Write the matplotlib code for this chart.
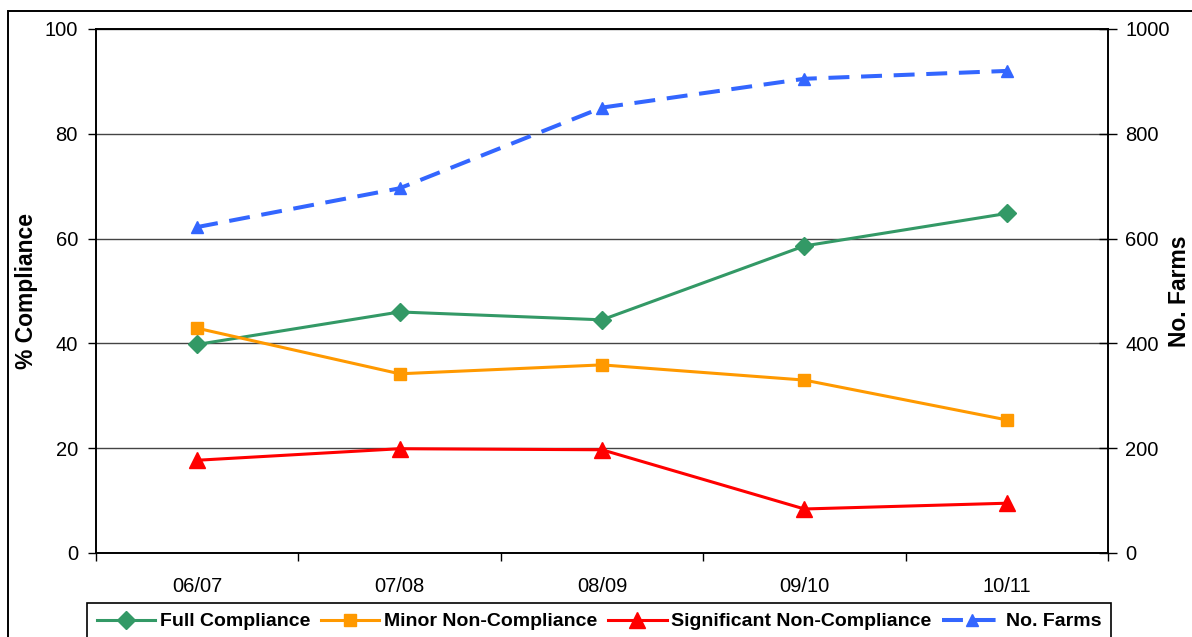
import matplotlib
matplotlib.use('Agg')
import matplotlib.pyplot as plt
from matplotlib.patches import Rectangle

plt.rcParams['font.family'] = ['Liberation Sans', 'DejaVu Sans']

# Compliance figures per season (%), and number of farms inspected
seasons = ['06/07', '07/08', '08/09', '09/10', '10/11']
full_compliance = [39.8, 46.0, 44.5, 58.6, 64.8]
minor_non_compliance = [42.9, 34.2, 35.9, 33.0, 25.4]
significant_non_compliance = [17.7, 19.9, 19.7, 8.4, 9.5]
no_farms = [622, 696, 850, 905, 920]

fig = plt.figure(figsize=(11.92, 6.37), dpi=100)
ax = fig.add_axes([96 / 1192, 1 - 553 / 637, 1012 / 1192, 524 / 637])
ax2 = ax.twinx()

x = list(range(len(seasons)))

# Left axis: compliance percentages
ax.plot(x, full_compliance, color='#339966', lw=2.2, marker='D', ms=9,
        mec='#339966', label='Full Compliance', zorder=3)
ax.plot(x, minor_non_compliance, color='#FF9900', lw=2.2, marker='s', ms=9,
        mec='#FF9900', label='Minor Non-Compliance', zorder=3)
ax.plot(x, significant_non_compliance, color='#FF0000', lw=2.2, marker='^', ms=11.5,
        mec='#FF0000', label='Significant Non-Compliance', zorder=3)

# Right axis: number of farms
ax2.plot(x, no_farms, color='#3366FF', lw=2.9, ls=(0, (5.2, 2.9)), marker='^', ms=8,
         mec='#3366FF', label='No. Farms')

ax.set_xlim(-0.5, len(seasons) - 0.5)
ax.set_ylim(0, 100)
ax2.set_ylim(0, 1000)
ax.set_yticks(range(0, 101, 20))
ax2.set_yticks(range(0, 1001, 200))

# Category labels centred, tick marks between categories
ax.set_xticks(x)
ax.set_xticklabels(seasons)
ax.set_xticks([i - 0.5 for i in range(len(seasons) + 1)], minor=True)
ax.tick_params(axis='x', which='major', length=0, pad=17, labelsize=14.5)
ax.tick_params(axis='x', which='minor', length=6, width=1, direction='out')
ax.tick_params(axis='y', length=6, width=1, direction='out', pad=7, labelsize=14.5)
ax2.tick_params(axis='y', length=13, width=1, direction='inout', pad=6, labelsize=14.5)

ax.grid(axis='y', color='#444444', lw=1)
ax.set_axisbelow(True)
for spine in list(ax.spines.values()) + list(ax2.spines.values()):
    spine.set_color('black')
    spine.set_linewidth(1.2)

ax.set_ylabel('% Compliance', fontsize=16.5, fontweight='bold')
ax.yaxis.set_label_coords((38 - 96) / 1012, 0.5)
ax2.set_ylabel('No. Farms', fontsize=16.5, fontweight='bold')
ax2.yaxis.set_label_coords((1168 - 96) / 1012, 0.5)

# Legend along the bottom, spanning both axes
handles = ax.get_lines() + ax2.get_lines()
labels = [h.get_label() for h in handles]
leg = fig.legend(handles, labels, loc='upper center', ncol=4,
                 bbox_to_anchor=(599 / 1192, 1 - 603 / 637),
                 prop={'size': 14, 'weight': 'bold'},
                 handlelength=3.0, handletextpad=0.25, columnspacing=0.55,
                 borderpad=0.5, borderaxespad=0, fancybox=False,
                 edgecolor='black', framealpha=1)
leg.get_frame().set_linewidth(1.2)

# Outer chart border
fig.patches.append(Rectangle((8 / 1192, -0.1), 1.2, 1.1 - 11 / 637,
                             transform=fig.transFigure, fill=False,
                             edgecolor='black', lw=1.4))

fig.savefig('out.png', dpi=100)
